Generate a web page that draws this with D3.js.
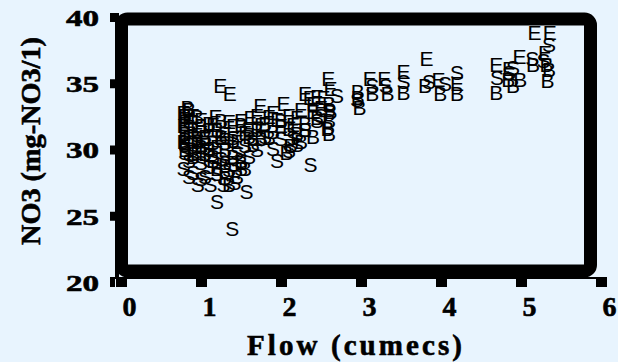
<!DOCTYPE html>
<html>
<head>
<meta charset="utf-8">
<script src="https://cdn.jsdelivr.net/npm/d3@7"></script>
<style>
  html, body { margin: 0; padding: 0; background: #e8f4fe; }
  svg { display: block; }
  .serif { font-family: 'Liberation Serif', 'Times New Roman', serif; font-weight: 700; fill: #000; stroke: #000; stroke-width: 0.6px; }
  .mark { font-family: 'Liberation Sans', Arial, sans-serif; font-size: 21px; fill: #000; }
</style>
</head>
<body>
<div id="chart"></div>
<script>
// axis ticks
const xTicks = [0, 1, 2, 3, 4, 5, 6];
const yTicks = [20, 25, 30, 35, 40];

// [flow, no3], one array per site letter
const siteE = [
  [5.17, 38.85], [5.36, 38.85], [4.98, 37.05], [4.69, 36.4], [4.85, 36.1], [5.30, 37.3],
  [3.82, 36.9], [3.97, 35.3], [4.20, 35.0], [3.53, 35.9], [3.11, 35.4], [3.29, 35.4],
  [2.59, 35.4], [2.36, 33.95], [2.53, 33.95], [2.62, 34.6],
  [1.24, 34.85], [1.36, 34.25], [1.74, 33.35], [2.03, 33.5], [2.30, 34.25], [2.45, 34.0],
  [1.18, 32.5], [1.00, 32.3], [0.90, 32.6], [0.80, 32.0], [1.50, 32.2], [1.62, 32.4],
  [1.85, 32.5], [1.95, 32.3], [2.10, 32.6], [2.20, 32.4], [2.40, 32.9], [2.50, 33.2],
  [1.40, 31.8], [1.10, 31.5], [0.85, 31.0], [1.30, 31.2], [1.60, 31.6], [1.75, 31.9],
  [2.00, 31.8], [2.30, 31.5], [0.80, 30.5], [1.05, 30.8], [1.20, 30.2], [0.95, 29.8], [1.45, 30.6],
  [0.78, 32.8], [0.85, 32.2], [0.95, 31.6], [1.15, 31.9], [1.35, 32.1], [1.55, 31.3],
  [1.70, 32.6], [1.90, 32.8], [2.15, 31.9], [2.25, 33.0], [2.40, 33.5], [0.90, 30.8],
  [1.00, 30.4], [1.25, 30.9], [1.10, 29.6]
];
const siteS = [
  [5.35, 37.9], [5.14, 36.9], [5.28, 36.7], [4.90, 36.2], [4.70, 35.45], [4.85, 35.8],
  [4.20, 35.8], [3.85, 35.1], [4.05, 35.0], [3.53, 35.15], [3.14, 34.85], [3.31, 34.85],
  [2.70, 34.1], [2.60, 33.0], [2.95, 33.8],
  [2.37, 28.85], [1.95, 29.2], [2.10, 29.9], [2.20, 30.4], [1.57, 26.8], [1.20, 26.1],
  [1.39, 24.05], [0.96, 27.4], [1.12, 27.4], [1.28, 27.4], [1.42, 27.5], [0.78, 28.6],
  [0.90, 28.3], [1.05, 28.0], [1.20, 28.2], [1.35, 28.5], [1.50, 28.6], [1.60, 29.5],
  [1.70, 30.0], [0.85, 29.2], [1.00, 29.0], [1.25, 29.3], [1.45, 29.8], [1.55, 30.3],
  [1.80, 31.0], [2.00, 30.8], [2.30, 31.5], [2.45, 32.2], [1.10, 30.0], [0.80, 29.8], [1.30, 30.5],
  [0.80, 30.4], [0.90, 29.7], [0.95, 30.6], [1.15, 29.5], [1.30, 29.0], [1.40, 28.9],
  [1.10, 28.7], [0.85, 28.0], [1.00, 27.8], [1.50, 29.2], [1.65, 30.8], [1.90, 30.1],
  [2.15, 30.9], [2.50, 32.6], [1.40, 30.9]
];
const siteB = [
  [5.33, 35.2], [5.35, 36.05], [5.15, 36.4], [5.32, 36.4], [4.84, 35.3], [4.99, 35.3],
  [4.69, 34.3], [4.90, 34.8],
  [3.80, 34.85], [3.99, 34.25], [4.20, 34.25], [3.53, 34.3], [3.14, 34.25], [3.33, 34.25],
  [2.96, 34.4], [2.96, 33.9], [2.98, 33.2],
  [2.60, 33.5], [2.62, 32.9], [2.60, 32.2], [2.58, 31.6], [2.60, 31.2], [2.07, 29.75],
  [2.12, 30.3], [2.40, 31.0], [2.30, 32.0], [2.20, 31.2], [0.83, 33.2], [0.80, 32.6],
  [0.78, 31.8], [0.80, 31.2], [0.78, 30.6], [0.80, 30.0], [0.95, 32.5], [1.00, 31.8],
  [1.10, 32.0], [1.20, 31.5], [1.05, 31.0], [1.15, 30.5], [1.30, 30.0], [1.40, 29.5],
  [1.50, 29.0], [1.55, 28.6], [1.45, 28.0], [1.35, 27.4], [1.30, 28.8], [1.60, 31.0],
  [1.70, 31.5], [1.80, 32.0], [1.90, 31.4], [2.00, 32.2], [1.65, 30.4], [1.25, 32.2],
  [0.90, 29.5], [1.00, 30.2],
  [0.85, 33.0], [0.90, 31.5], [0.95, 30.9], [1.05, 29.7], [1.15, 29.2], [1.20, 28.6],
  [1.40, 30.7], [1.50, 31.9], [1.75, 30.8], [1.85, 30.9], [2.10, 31.6], [2.25, 30.6],
  [2.45, 32.4], [1.30, 27.9], [1.25, 31.0]
];

const width = 618, height = 362;

const svg = d3.select('#chart').append('svg')
  .attr('width', width)
  .attr('height', height);

svg.append('rect')
  .attr('width', width).attr('height', height)
  .attr('fill', '#e8f4fe');

const x = d3.scaleLinear().domain([0, 6]).range([121, 601]);
const y = d3.scaleLinear().domain([20, 40]).range([282, 17]);

// thick rounded plot frame
svg.append('rect')
  .attr('x', 121.5).attr('y', 19)
  .attr('width', 469).attr('height', 252)
  .attr('rx', 6)
  .attr('fill', 'none')
  .attr('stroke', '#000')
  .attr('stroke-width', 13);
// left edge is a bit heavier where the y axis sits on it
svg.append('line')
  .attr('x1', 117).attr('x2', 117)
  .attr('y1', y(40) - 4).attr('y2', 278)
  .attr('stroke', '#000').attr('stroke-width', 4);

// x axis
const xAxis = svg.append('g')
  .attr('transform', 'translate(0,278)')
  .call(d3.axisBottom(x).tickValues(xTicks).tickSize(9).tickSizeOuter(0).tickFormat(d3.format('d')));
xAxis.attr('font-family', null).attr('font-size', null);
xAxis.select('.domain').attr('stroke', '#000').attr('stroke-width', 2)
  .attr('d', 'M110,0H607');
xAxis.selectAll('.tick line').attr('stroke', '#000').attr('stroke-width', 11);
xAxis.selectAll('.tick text')
  .attr('class', 'serif')
  .attr('x', 8)
  .attr('y', 38)
  .attr('dy', 0)
  .style('font-size', '28px');

// y axis
const yAxis = svg.append('g')
  .attr('transform', 'translate(115,0)')
  .call(d3.axisLeft(y).tickValues(yTicks).tickSize(5).tickSizeOuter(0));
yAxis.attr('font-family', null).attr('font-size', null);
yAxis.select('.domain').remove();
yAxis.selectAll('.tick line').attr('stroke', '#000').attr('stroke-width', 9);
yAxis.selectAll('.tick text')
  .attr('class', 'serif')
  .attr('x', -16)
  .attr('dy', '0.35em')
  .attr('textLength', 33)
  .attr('lengthAdjust', 'spacingAndGlyphs')
  .style('font-size', '24px');

// axis titles
svg.append('text')
  .attr('class', 'serif')
  .attr('x', 354.5).attr('y', 355)
  .attr('text-anchor', 'middle')
  .attr('textLength', 215)
  .attr('lengthAdjust', 'spacing')
  .style('font-size', '29px')
  .text('Flow (cumecs)');

svg.append('text')
  .attr('class', 'serif')
  .attr('transform', 'translate(40,141) rotate(-90)')
  .attr('text-anchor', 'middle')
  .attr('textLength', 208)
  .attr('lengthAdjust', 'spacingAndGlyphs')
  .style('font-size', '28px')
  .text('NO3 (mg-NO3/1)');

// points drawn as site letters
const sites = [
  { letter: 'B', data: siteB },
  { letter: 'S', data: siteS },
  { letter: 'E', data: siteE }
];

sites.forEach(site => {
  svg.append('g').selectAll('text')
    .data(site.data)
    .enter().append('text')
    .attr('class', 'mark')
    .attr('x', d => x(d[0]))
    .attr('y', d => y(d[1]))
    .attr('dy', '0.36em')
    .attr('text-anchor', 'middle')
    .text(site.letter);
});
</script>
</body>
</html>
